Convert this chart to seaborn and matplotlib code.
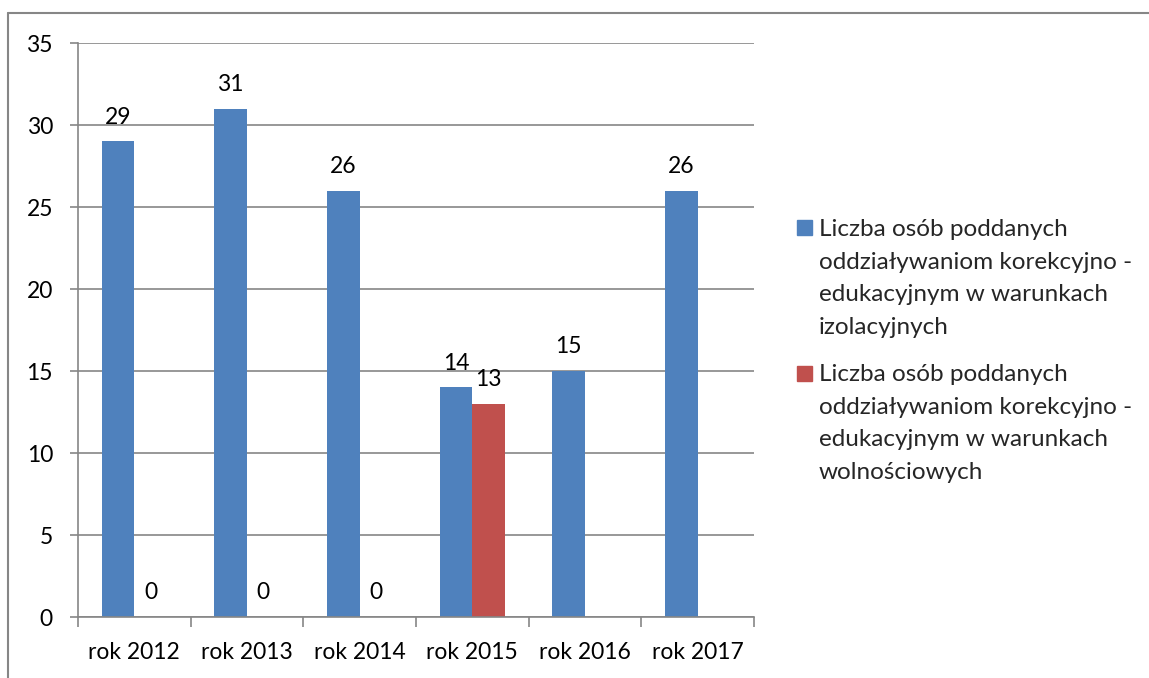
import numpy as np
import pandas as pd
import matplotlib
matplotlib.use('Agg')
import matplotlib.pyplot as plt
from matplotlib.lines import Line2D
from matplotlib.patches import Rectangle
from matplotlib.ticker import FixedLocator
import seaborn as sns

years = ['rok 2012', 'rok 2013', 'rok 2014', 'rok 2015', 'rok 2016', 'rok 2017']
izolacyjne = [29, 31, 26, 14, 15, 26]
wolnosciowe = [0, 0, 0, 13, None, None]
series_names = [
    'Liczba osób poddanych\noddziaływaniom korekcyjno -\nedukacyjnym w warunkach\nizolacyjnych',
    'Liczba osób poddanych\noddziaływaniom korekcyjno -\nedukacyjnym w warunkach\nwolnościowych',
]
colors = ['#4F81BD', '#C0504D']

rows = []
for y, v in zip(years, izolacyjne):
    rows.append({'rok': y, 'seria': series_names[0], 'liczba': v})
for y, v in zip(years, wolnosciowe):
    if v is not None:
        rows.append({'rok': y, 'seria': series_names[1], 'liczba': v})
df = pd.DataFrame(rows)

sns.set_style('white')
plt.rcParams['font.family'] = ['Lato', 'DejaVu Sans']
fs = 16.5
grey = '#868686'

fig = plt.figure(figsize=(11.49, 6.78), dpi=100)
ax = fig.add_axes([78 / 1149, 1 - 617 / 678, (754 - 78) / 1149, (617 - 43) / 678])

sns.barplot(data=df, x='rok', y='liczba', hue='seria', order=years,
            hue_order=series_names, palette=colors, width=0.58,
            errorbar=None, saturation=1, legend=False, linewidth=0, ax=ax)

for c in ax.containers:
    ax.bar_label(c, fmt='%g', padding=10, fontsize=fs, color='black')

ax.set_ylim(0, 35)
ax.set_xlim(-0.5, len(years) - 0.5)
ax.set_yticks(np.arange(0, 36, 5))
ax.yaxis.grid(True, color=grey, linewidth=1.2)
ax.set_axisbelow(True)
ax.set_xlabel('')
ax.set_ylabel('')

ax.xaxis.set_minor_locator(FixedLocator(np.arange(-0.5, len(years), 1)))
ax.tick_params(axis='x', which='major', length=0, pad=18, labelsize=fs, labelcolor='black')
ax.tick_params(axis='x', which='minor', length=7, width=1.2, color=grey, direction='out', bottom=True)
ax.tick_params(axis='y', length=6, width=1.2, color=grey, direction='out', pad=12,
               labelsize=fs, labelcolor='black', left=True)

for s in ['top', 'right']:
    ax.spines[s].set_visible(False)
for s in ['left', 'bottom']:
    ax.spines[s].set_color(grey)
    ax.spines[s].set_linewidth(1.2)

# legend drawn by hand so the marker sits on the first line
W, H = 1149, 678
legend_top = [228, 373]
for name, col, yc in zip(series_names, colors, legend_top):
    fig.add_artist(Rectangle((797 / W, 1 - (yc + 7.5) / H), 15 / W, 15 / H,
                             transform=fig.transFigure, color=col))
    fig.text(819 / W, 1 - (yc - 9) / H, name, fontsize=17.5, va='top', ha='left',
             linespacing=1.68)

# outer chart frame (left and top edges visible)
fig.add_artist(Line2D([8 / W, 8 / W], [0, 1 - 13 / H], color=grey, linewidth=1.5,
                      transform=fig.transFigure))
fig.add_artist(Line2D([8 / W, 1], [1 - 13 / H, 1 - 13 / H], color=grey, linewidth=1.5,
                      transform=fig.transFigure))

fig.savefig('out.png', dpi=100)
